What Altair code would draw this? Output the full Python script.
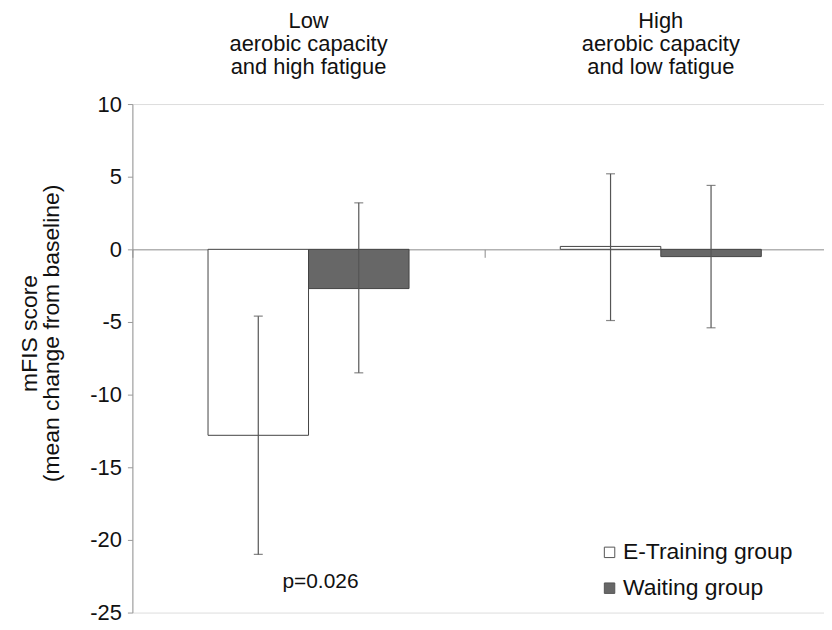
import altair as alt
import pandas as pd

categories = ["Low|aerobic capacity|and high fatigue", "High|aerobic capacity|and low fatigue"]
groups = ["E-Training group", "Waiting group"]
means = [[-12.8, -2.7], [0.2, -0.5]]
err_low = [[-21.0, -8.5], [-4.9, -5.4]]
err_high = [[-4.6, 3.2], [5.2, 4.4]]
annot_text = ["p=0.026"]
annot_cat = [categories[0]]
annot_y = [-22.9]
y_ticks = [10, 5, 0, -5, -10, -15, -20, -25]

rows = []
for i, c in enumerate(categories):
    for j, g in enumerate(groups):
        rows.append({"cat": c, "group": g, "mean": means[i][j],
                     "lo": err_low[i][j], "hi": err_high[i][j]})
df = pd.DataFrame(rows)
ann = pd.DataFrame({"cat": annot_cat, "y": annot_y, "t": annot_text})

FONT = "Liberation Sans"
xscale = alt.Scale(domain=categories, paddingInner=0, paddingOuter=0, range=[0, 708])
xoff = alt.XOffset("group:N", scale=alt.Scale(domain=groups, paddingOuter=0.7525, paddingInner=0))
yscale = alt.Scale(domain=[-25, 10], nice=False, zero=False)

bars = alt.Chart(df).mark_bar(stroke="#444", strokeWidth=1).encode(
    x=alt.X("cat:N", scale=xscale, sort=categories,
            axis=alt.Axis(orient="bottom", offset=-365, labels=False, title=None,
                          domainColor="#8a8a8a", tickColor="#8a8a8a", tickSize=8,
                          tickBand="extent", domainWidth=1)),
    xOffset=xoff,
    y=alt.Y("mean:Q", scale=yscale,
            axis=alt.Axis(values=y_ticks, grid=False, domainColor="#999", tickColor="#999",
                          tickSize=5, labelFontSize=22, labelPadding=6, labelColor="#111",
                          labelExpr="toString(datum.value)",
                          labelFont=FONT, title=["mFIS score", "(mean change from  baseline)"],
                          titleFont=FONT, titleFontSize=23, titleFontWeight="normal",
                          titleColor="#111", titleX=-103, titleY=230, titleBaseline="middle",
                          titleAlign="center", titleAngle=-90, titleLineHeight=22)),
    fill=alt.Fill("group:N", scale=alt.Scale(domain=groups, range=["#ffffff", "#676767"]),
                  legend=alt.Legend(orient="none", legendX=468, legendY=439, title=None,
                                    symbolType="square", symbolSize=110,
                                    symbolStrokeColor="#555", symbolStrokeWidth=1,
                                    labelFont=FONT, labelFontSize=23, labelColor="#111",
                                    labelLimit=0, labelOffset=2, rowPadding=12, padding=0)),
)

rules = alt.Chart(df).mark_rule(color="#555", strokeWidth=1.2).encode(
    x=alt.X("cat:N", scale=xscale, sort=categories,
            axis=alt.Axis(orient="top", domain=False, ticks=False, title=None,
                          labelExpr="split(datum.value, '|')", labelAngle=0,
                          labelFont=FONT, labelFontSize=22, labelLineHeight=23,
                          labelColor="#111", labelPadding=72)),
    xOffset=xoff,
    y=alt.Y("lo:Q", scale=yscale),
    y2="hi:Q",
)

cap_lo = alt.Chart(df).mark_tick(color="#555", size=9, thickness=1.2, orient="horizontal").encode(
    x=alt.X("cat:N", scale=xscale, sort=categories, axis=None),
    xOffset=xoff,
    y=alt.Y("lo:Q", scale=yscale),
)
cap_hi = alt.Chart(df).mark_tick(color="#555", size=9, thickness=1.2, orient="horizontal").encode(
    x=alt.X("cat:N", scale=xscale, sort=categories, axis=None),
    xOffset=xoff,
    y=alt.Y("hi:Q", scale=yscale),
)

txt = alt.Chart(ann).mark_text(font=FONT, fontSize=21, color="#111", dx=12).encode(
    x=alt.X("cat:N", scale=xscale, sort=categories, axis=None),
    y=alt.Y("y:Q", scale=yscale),
    text="t:N",
)

chart = alt.layer(bars, rules, cap_lo, cap_hi, txt).resolve_axis(x="independent").properties(
    width=695, height=511,
    autosize=alt.AutoSizeParams(type="none"),
    padding={"left": 125, "top": 95, "right": 0, "bottom": 14},
).configure_view(stroke=None).configure(background="white")

chart.save("out.html", embed_options={"renderer": "svg", "actions": False})
